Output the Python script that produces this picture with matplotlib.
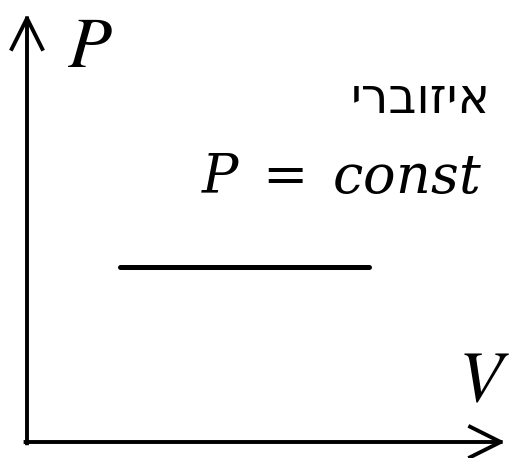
import matplotlib
matplotlib.use("Agg")
import matplotlib.pyplot as plt

plt.rcParams['mathtext.fontset'] = 'stix'

# --- data (axes units: origin at the corner of the arrows) ---
V_isobar = [0.195, 0.715]
P_isobar = [0.41, 0.41]
label_heb = "איזוברי"
label_eq = r"$P\;=\;const$"
label_x = r"$V$"
label_y = r"$P$"

W, H, DPI = 510, 458, 100
fig = plt.figure(figsize=(W/DPI, H/DPI), dpi=DPI)
ox, oy = 27, 442      # origin in pixels (from top-left)
tx, ty = 505, 14      # arrow tips
ax = fig.add_axes([ox/W, (H-oy)/H, (tx-ox)/W, (oy-ty)/H])
ax.set_xlim(0, 1); ax.set_ylim(0, 1)
ax.axis("off")

arrow = dict(arrowstyle="->,head_length=1.1,head_width=0.55", lw=2.8, color="black",
             mutation_scale=20, shrinkA=0, shrinkB=0, capstyle="projecting")
ax.annotate("", xy=(0, 1), xytext=(0, -0.003), arrowprops=arrow, annotation_clip=False)
ax.annotate("", xy=(1, 0), xytext=(-0.003, 0), arrowprops=arrow, annotation_clip=False)

ax.plot(V_isobar, P_isobar, color="black", lw=3.6, solid_capstyle="round")

ax.text(0.084, 0.876, label_y, fontsize=52, ha="left", va="baseline")
ax.text(1.010, 0.098, label_x, fontsize=52, ha="right", va="baseline")
# matplotlib has no bidi support, so the Hebrew word is reversed for display
ax.text(0.970, 0.768, label_heb[::-1], fontsize=35, ha="right", va="baseline",
        family=["DejaVu Sans"])
ax.text(0.952, 0.582, label_eq, fontsize=39, ha="right", va="baseline",
        math_fontfamily="dejavuserif")

fig.savefig("out.png", dpi=DPI)
